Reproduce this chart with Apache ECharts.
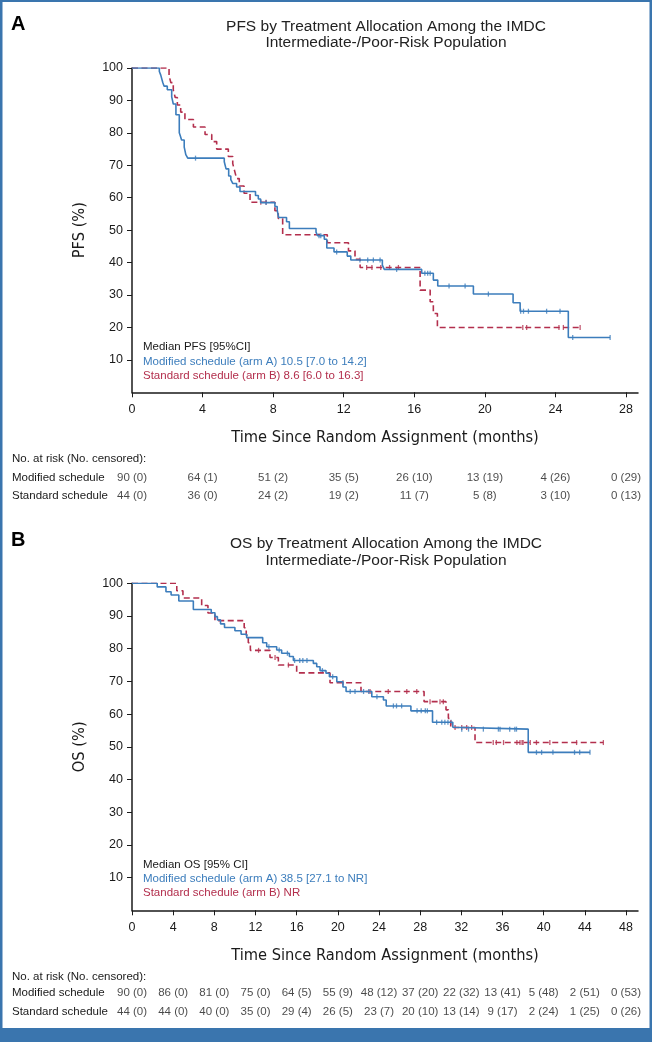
<!DOCTYPE html>
<html><head><meta charset="utf-8">
<script src="https://cdn.jsdelivr.net/npm/echarts@6/dist/echarts.min.js"></script>
<style>html,body{margin:0;padding:0;background:#fff}#c{width:652px;height:1042px}</style>
</head><body><div id="c"></div>
<script>
// ---------------- data ----------------
const pfsTicks = [0, 4, 8, 12, 16, 20, 24, 28];
const osTicks = [0, 4, 8, 12, 16, 20, 24, 28, 32, 36, 40, 44, 48];
const yTicks = [10, 20, 30, 40, 50, 60, 70, 80, 90, 100];
const armNames = ['Modified schedule', 'Standard schedule'];

// PFS Kaplan-Meier steps [months, %]
const pfsArmA = [[0,100],[1.55,98.9],[1.63,97.8],[1.74,95.6],[1.82,94.4],[2.0,93.3],[2.25,91.1],[2.34,88.9],[2.49,85.6],[2.68,80.0],[2.75,78.9],[2.81,77.8],[2.96,75.6],[3.05,73.3],[3.16,72.2],[5.23,71.1],[5.33,68.9],[5.48,66.7],[5.6,65.6],[5.71,64.4],[5.93,63.3],[6.12,61.9],[7.0,60.7],[7.16,59.6],[7.29,58.5],[8.1,57.3],[8.23,56.2],[8.31,53.9],[8.76,52.6],[8.92,50.5],[10.43,49.4],[10.52,48.3],[10.9,47.2],[11.04,44.5],[11.45,43.3],[12.2,42.0],[12.4,40.8],[14.19,39.2],[14.3,37.9],[16.42,36.7],[17.08,34.6],[17.33,32.8],[19.35,30.3],[21.6,27.6],[22.0,25.0],[24.73,16.9],[27.1,16.9]];
const pfsArmB = [[0,100],[2.10,97.7],[2.2,95.5],[2.34,93.2],[2.45,90.9],[2.57,88.6],[2.76,86.4],[3.0,84.1],[3.48,81.8],[4.14,79.5],[4.52,77.3],[4.80,75.0],[5.46,72.7],[5.71,70.5],[5.82,68.2],[5.93,65.9],[6.08,63.6],[6.35,61.4],[6.69,58.6],[8.1,56.0],[8.29,53.6],[8.54,48.6],[11.07,46.1],[12.27,43.6],[12.64,41.0],[12.93,38.5],[16.33,31.5],[16.9,27.9],[17.08,24.3],[17.31,20.0],[25.4,20.0]];
const pfsCensorA = [3.6,7.6,10.6,10.7,11.6,12.92,13.36,13.68,14.06,15.0,16.6,16.76,16.9,17.97,18.88,20.2,22.03,22.19,22.47,23.5,24.26,24.98,27.1];
const pfsCensorB = [7.3,7.6,13.3,13.6,14.1,14.6,15.1,22.15,22.37,24.2,24.45,25.4];

// OS Kaplan-Meier steps [months, %]
const osArmA = [[0,100],[2.45,98.9],[3.3,97.4],[3.8,96.4],[4.55,94.6],[5.96,92.0],[7.7,91.0],[8.06,89.8],[8.3,88.8],[8.6,87.6],[8.99,86.5],[10.0,85.5],[10.6,84.4],[11.14,83.4],[12.7,81.8],[13.09,80.6],[14.06,79.6],[14.54,78.6],[15.29,77.6],[15.68,76.4],[17.62,75.5],[17.95,74.5],[18.27,73.3],[18.85,72.5],[19.18,71.4],[19.9,69.9],[20.5,68.3],[20.8,66.9],[23.3,65.3],[24.43,64.3],[24.7,62.5],[27.1,61.0],[29.2,57.5],[31.17,56.0],[31.3,55.4],[38.5,48.3],[44.5,48.3]];
const osArmB = [[0,100],[4.35,97.7],[4.95,95.5],[6.77,93.2],[7.38,90.9],[8.06,88.6],[10.9,86.4],[11.1,84.1],[11.3,81.8],[11.5,79.5],[13.41,77.3],[14.22,75.0],[16.0,72.6],[19.24,69.6],[22.25,66.9],[28.38,63.8],[30.51,61.3],[30.74,58.7],[30.97,55.9],[33.33,51.3],[45.8,51.3]];
const osCensorA = [13.3,14.3,15.1,15.8,16.3,16.6,17.0,18.5,19.5,21.2,21.67,22.5,23.0,23.8,25.4,25.7,26.2,27.7,28.1,28.5,28.7,29.6,30.1,30.4,30.7,31.0,32.04,32.7,34.14,35.6,35.76,36.7,37.2,37.36,39.3,39.8,40.9,43.0,43.5,44.5];
const osCensorB = [12.3,13.9,15.2,20.5,23.13,24.9,26.7,27.67,28.96,29.93,30.25,31.39,32.04,32.52,33.0,35.1,35.4,36.1,37.4,37.7,37.9,38.0,38.7,39.3,40.6,43.2,45.8];

// numbers at risk (no. censored)
const pfsRiskA = ['90 (0)','64 (1)','51 (2)','35 (5)','26 (10)','13 (19)','4 (26)','0 (29)'];
const pfsRiskB = ['44 (0)','36 (0)','24 (2)','19 (2)','11 (7)','5 (8)','3 (10)','0 (13)'];
const osRiskA = ['90 (0)','86 (0)','81 (0)','75 (0)','64 (5)','55 (9)','48 (12)','37 (20)','22 (32)','13 (41)','5 (48)','2 (51)','0 (53)'];
const osRiskB = ['44 (0)','44 (0)','40 (0)','35 (0)','29 (4)','26 (5)','23 (7)','20 (10)','13 (14)','9 (17)','2 (24)','1 (25)','0 (26)'];

// ---------------- style ----------------
const BLUE = '#3c7dbc', RED = '#b32f4d', FRAME = '#3a75ae', INK = '#1a1a1a';
const FONT = "'Liberation Sans', Arial, sans-serif";
const NARROW = "'DejaVu Sans Condensed', 'Liberation Sans Narrow', sans-serif";

function survAt(curve, t) {
  let s = curve[0][1];
  for (const p of curve) { if (p[0] <= t) s = p[1]; else break; }
  return s;
}
function censorPts(curve, times) { return times.map(t => [t, survAt(curve, t)]); }

const chart = echarts.init(document.getElementById('c'), null, {renderer: 'canvas'});

function kmX(idx, max, ticks) {
  return {
    gridIndex: idx, type: 'value', min: 0, max: max,
    axisLine: {onZero: false, lineStyle: {color: INK, width: 1.5}},
    axisTick: {customValues: ticks, length: 5, lineStyle: {color: INK, width: 1}},
    axisLabel: {customValues: ticks, fontSize: 12.5, color: INK, fontFamily: FONT, margin: 11},
    splitLine: {show: false},
    name: 'Time Since Random Assignment (months)', nameLocation: 'middle', nameGap: 37,
    nameTextStyle: {fontSize: 16.3, color: INK, fontFamily: NARROW}
  };
}
function kmY(idx, title) {
  return {
    gridIndex: idx, type: 'value', min: 0, max: 100,
    axisLine: {onZero: false, lineStyle: {color: INK, width: 1.5}},
    axisTick: {customValues: yTicks, length: 5, lineStyle: {color: INK, width: 1}},
    axisLabel: {customValues: yTicks, fontSize: 12.5, color: INK, fontFamily: FONT, margin: 9},
    splitLine: {show: false},
    name: title, nameLocation: 'middle', nameGap: 44, nameRotate: 90,
    nameTextStyle: {fontSize: 16.3, color: INK, fontFamily: NARROW}
  };
}
function riskX(idx, max) {
  return {gridIndex: idx, type: 'value', min: 0, max: max, show: false};
}
function riskY(idx) {
  return {
    gridIndex: idx, type: 'category', data: armNames, inverse: true,
    axisLine: {show: false}, axisTick: {show: false},
    axisLabel: {align: 'left', margin: 120, fontSize: 11.5, color: INK, fontFamily: FONT}
  };
}
function lineS(xi, data, color, dashed) {
  return {
    type: 'line', xAxisIndex: xi, yAxisIndex: xi, data: data, step: 'end',
    showSymbol: false, symbol: 'none', silent: true, animation: false,
    lineStyle: {color: color, width: 1.6, type: dashed ? [6, 3.5] : 'solid'}
  };
}
function censorS(xi, pts, color) {
  return {
    type: 'scatter', xAxisIndex: xi, yAxisIndex: xi, data: pts,
    symbol: 'rect', symbolSize: [1.3, 5], itemStyle: {color: color}, silent: true, animation: false
  };
}
function riskS(xi, ticks, rowA, rowB) {
  const d = [];
  ticks.forEach((t, i) => { d.push({value: [t, armNames[0]], txt: rowA[i]}); d.push({value: [t, armNames[1]], txt: rowB[i]}); });
  return {
    type: 'scatter', xAxisIndex: xi, yAxisIndex: xi, data: d, symbolSize: 0, silent: true, animation: false,
    label: {show: true, position: 'inside', formatter: p => p.data.txt, fontSize: 11.5, color: INK, fontFamily: FONT}
  };
}
function txt(x, y, text, opt) {
  return {type: 'text', x: x, y: y, z: 10, silent: true,
    style: Object.assign({text: text, fontSize: 11.5, fontFamily: FONT, fill: INK, align: 'left', verticalAlign: 'middle'}, opt || {})};
}

const pfsMax = (638 - 132) / ((626 - 132) / 28);
const osMax = (638 - 132) / ((626 - 132) / 48);

const option = {
  backgroundColor: '#ffffff',
  animation: false,
  grid: [
    {left: 132, top: 68, width: 506, height: 324.3},
    {left: 132, top: 583.3, width: 506, height: 327},
    {left: 132, top: 468.7, width: 506, height: 36},
    {left: 132, top: 983.6, width: 506, height: 37.4}
  ],
  xAxis: [kmX(0, pfsMax, pfsTicks), kmX(1, osMax, osTicks), riskX(2, pfsMax), riskX(3, osMax)],
  yAxis: [kmY(0, 'PFS (%)'), kmY(1, 'OS (%)'), riskY(2), riskY(3)],
  series: [
    lineS(0, pfsArmB, RED, true), censorS(0, censorPts(pfsArmB, pfsCensorB), RED),
    lineS(0, pfsArmA, BLUE, false), censorS(0, censorPts(pfsArmA, pfsCensorA), BLUE),
    lineS(1, osArmB, RED, true), censorS(1, censorPts(osArmB, osCensorB), RED),
    lineS(1, osArmA, BLUE, false), censorS(1, censorPts(osArmA, osCensorA), BLUE),
    riskS(2, pfsTicks, pfsRiskA, pfsRiskB),
    riskS(3, osTicks, osRiskA, osRiskB)
  ],
  graphic: [
    {type: 'rect', shape: {x: 0, y: 0, width: 652, height: 2}, style: {fill: FRAME}, silent: true},
    {type: 'rect', shape: {x: 0, y: 0, width: 2.5, height: 1042}, style: {fill: FRAME}, silent: true},
    {type: 'rect', shape: {x: 649.5, y: 0, width: 2.5, height: 1042}, style: {fill: FRAME}, silent: true},
    {type: 'rect', shape: {x: 0, y: 1028, width: 652, height: 14}, style: {fill: FRAME}, silent: true},
    txt(11, 24, 'A', {fontSize: 20, fontWeight: 'bold', fill: '#000'}),
    txt(386, 26.7, 'PFS by Treatment Allocation Among the IMDC', {fontSize: 15.5, align: 'center', fill: '#222'}),
    txt(386, 43, 'Intermediate-/Poor-Risk Population', {fontSize: 15.5, align: 'center', fill: '#222'}),
    txt(143, 347, 'Median PFS [95%CI]'),
    txt(143, 361.5, 'Modified schedule (arm A) 10.5 [7.0 to 14.2]', {fill: BLUE}),
    txt(143, 376, 'Standard schedule (arm B) 8.6 [6.0 to 16.3]', {fill: RED}),
    txt(12, 459, 'No. at risk (No. censored):'),
    txt(11, 540, 'B', {fontSize: 20, fontWeight: 'bold', fill: '#000'}),
    txt(386, 544, 'OS by Treatment Allocation Among the IMDC', {fontSize: 15.5, align: 'center', fill: '#222'}),
    txt(386, 560.5, 'Intermediate-/Poor-Risk Population', {fontSize: 15.5, align: 'center', fill: '#222'}),
    txt(143, 864.5, 'Median OS [95% CI]'),
    txt(143, 878.5, 'Modified schedule (arm A) 38.5 [27.1 to NR]', {fill: BLUE}),
    txt(143, 892.5, 'Standard schedule (arm B) NR', {fill: RED}),
    txt(12, 976.7, 'No. at risk (No. censored):')
  ]
};
chart.setOption(option);
</script>
</body></html>
